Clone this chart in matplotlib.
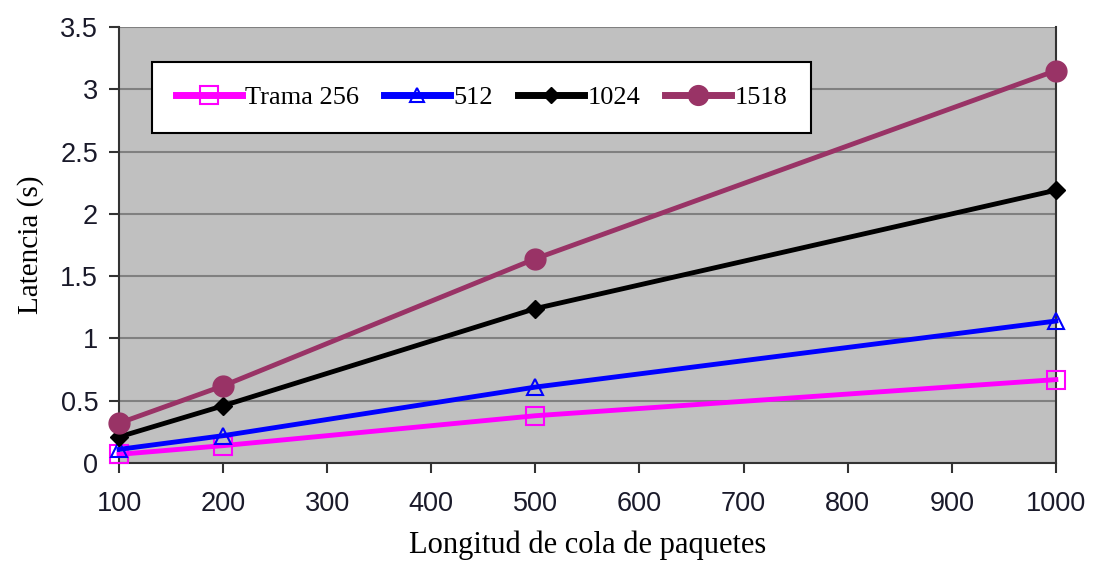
import matplotlib
matplotlib.use('Agg')
import matplotlib.pyplot as plt
import numpy as np

# datos
longitud = [100, 200, 500, 1000]
trama_256 = [0.07, 0.14, 0.38, 0.67]
trama_512 = [0.11, 0.22, 0.61, 1.14]
trama_1024 = [0.21, 0.46, 1.24, 2.19]
trama_1518 = [0.32, 0.62, 1.64, 3.15]

fig = plt.figure(figsize=(10.97, 5.62), dpi=100)
ax = fig.add_axes([0.1085, 0.176, 0.854, 0.776])
ax.set_facecolor('#c0c0c0')

ax.plot(longitud, trama_256, color='#ff00ff', lw=3.5, marker='s', ms=13,
        mfc='none', mec='#ff00ff', mew=1.5, label='Trama 256', clip_on=False, zorder=3)
ax.plot(longitud, trama_512, color='#0000ff', lw=3.5, marker='^', ms=11,
        mfc='none', mec='#0000ff', mew=1.5, label='512', clip_on=False, zorder=3)
ax.plot(longitud, trama_1024, color='black', lw=3.5, marker='D', ms=9,
        label='1024', clip_on=False, zorder=3)
ax.plot(longitud, trama_1518, color='#993366', lw=3.5, marker='o', ms=15,
        label='1518', clip_on=False, zorder=3)

ax.set_xlim(100, 1000)
ax.set_ylim(0, 3.5)
ax.set_xticks(np.arange(100, 1001, 100))
ax.set_yticks(np.arange(0, 3.51, 0.5))
ax.set_yticklabels(['0', '0.5', '1', '1.5', '2', '2.5', '3', '3.5'])
ax.grid(axis='y', color='#808080', lw=1.5)
ax.set_axisbelow(True)

ax.tick_params(labelsize=19.5, length=7, width=1.5, colors='#333333', labelcolor='#1a1a2a')
ax.tick_params(axis='x', pad=13)
ax.tick_params(axis='y', pad=8)
for lab in ax.get_xticklabels() + ax.get_yticklabels():
    lab.set_family('Liberation Sans')
for side in ['left', 'bottom', 'right']:
    ax.spines[side].set_color('#333333')
    ax.spines[side].set_linewidth(1.5)
ax.spines['top'].set_visible(False)

ax.set_xlabel('Longitud de cola de paquetes', family='Liberation Serif', fontsize=22, labelpad=10)
ax.set_ylabel('Latencia (s)', family='Liberation Serif', fontsize=21, labelpad=12)

leg = ax.legend(loc='lower left', bbox_to_anchor=(0.035, 0.757, 0.704, 0.193), mode='expand',
                ncol=4, frameon=True, fancybox=False, edgecolor='black', facecolor='white',
                framealpha=1, prop={'family': 'Liberation Serif', 'size': 19},
                handlelength=2.5, handletextpad=0.15, columnspacing=0.4, borderpad=0.9,
                borderaxespad=0, markerscale=0.95)
leg.get_frame().set_linewidth(1.5)
for h in leg.get_lines():
    h.set_linewidth(5)

fig.savefig('out.png', dpi=100)
